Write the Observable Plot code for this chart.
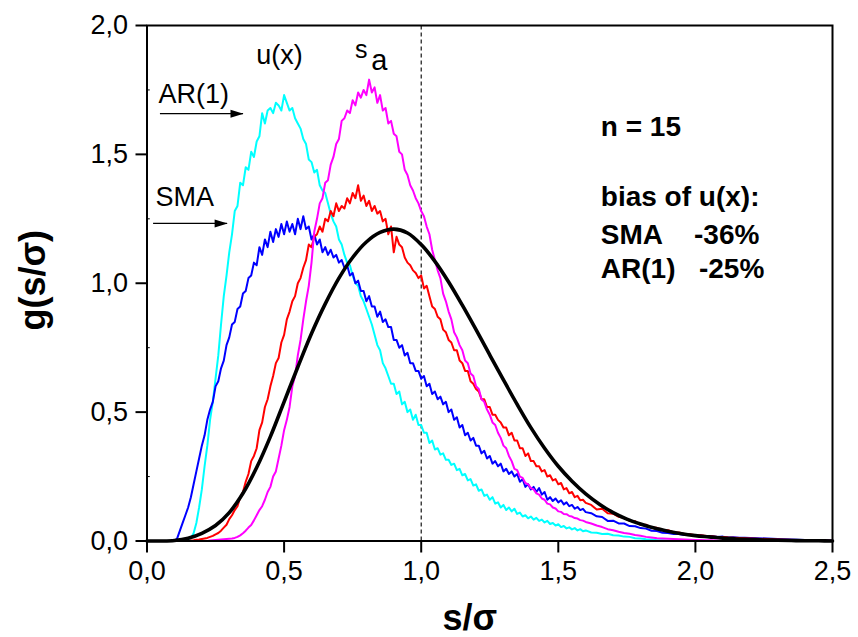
<!DOCTYPE html>
<html><head><meta charset="utf-8">
<script src="https://cdn.jsdelivr.net/npm/d3@7"></script>
<script src="https://cdn.jsdelivr.net/npm/@observablehq/plot@0.6"></script>
<style>body{margin:0;background:#fff}</style>
</head><body><div id="chart"></div>
<script>
// sample positions s/sigma for the simulated histograms
const xs = [
0.10,0.11,0.12,0.13,0.14,0.15,0.16,0.17,0.18,0.19,
0.20,0.21,0.22,0.23,0.24,0.25,0.26,0.27,0.28,0.29,
0.30,0.31,0.32,0.33,0.34,0.35,0.36,0.37,0.38,0.39,
0.40,0.41,0.42,0.43,0.44,0.45,0.46,0.47,0.48,0.49,
0.50,0.51,0.52,0.53,0.54,0.55,0.56,0.57,0.58,0.59,
0.60,0.61,0.62,0.63,0.64,0.65,0.66,0.67,0.68,0.69,
0.70,0.71,0.72,0.73,0.74,0.75,0.76,0.77,0.78,0.79,
0.80,0.81,0.82,0.83,0.84,0.85,0.86,0.87,0.88,0.89,
0.90,0.91,0.92,0.93,0.94,0.95,0.96,0.97,0.98,0.99,
1.00,1.01,1.02,1.03,1.04,1.05,1.06,1.07,1.08,1.09,
1.10,1.11,1.12,1.13,1.14,1.15,1.16,1.17,1.18,1.19,
1.20,1.21,1.22,1.23,1.24,1.25,1.26,1.27,1.28,1.29,
1.30,1.31,1.32,1.33,1.34,1.35,1.36,1.37,1.38,1.39,
1.40,1.41,1.42,1.43,1.44,1.45,1.46,1.47,1.48,1.49,
1.50,1.51,1.52,1.53,1.54,1.55,1.56,1.57,1.58,1.59,
1.60,
1.62,1.64,1.66,1.68,1.70,1.72,1.74,1.76,1.78,1.80,
1.82,1.84,1.86,1.88,1.90,1.92,1.94,1.96,1.98,2.00,
2.02,2.04,2.06,2.08,2.10,2.12,2.14,2.16,2.18,2.20,
2.30,2.40,2.50];

// u(x), AR(1) — cyan
const arUx = [
0,0,0,0,0.002,0.005,0.012,0.03,0.07,0.13,
0.20,0.29,0.37,0.47,0.54,0.63,0.72,0.84,0.95,1.03,
1.12,1.19,1.28,1.30,1.39,1.38,1.45,1.44,1.51,1.49,
1.55,1.57,1.66,1.62,1.67,1.68,1.66,1.70,1.69,1.67,
1.73,1.70,1.67,1.68,1.64,1.62,1.60,1.56,1.54,1.48,
1.47,1.43,1.44,1.38,1.36,1.35,1.31,1.27,1.24,1.22,
1.17,1.15,1.11,1.08,1.07,1.03,1.00,0.99,0.95,0.93,
0.90,0.87,0.84,0.80,0.76,0.74,0.69,0.67,0.64,0.61,
0.61,0.57,0.58,0.53,0.54,0.50,0.51,0.47,0.49,0.45,
0.45,0.42,0.42,0.38,0.39,0.355,0.36,0.335,0.34,0.315,
0.315,0.295,0.30,0.275,0.28,0.255,0.26,0.235,0.24,0.215,
0.22,0.195,0.20,0.175,0.18,0.16,0.17,0.145,0.15,0.13,
0.14,0.12,0.13,0.115,0.125,0.105,0.11,0.095,0.10,0.088,
0.095,0.083,0.09,0.078,0.083,0.072,0.078,0.066,0.07,0.06,
0.065,0.054,0.058,0.049,0.053,0.045,0.05,0.041,0.046,0.038,
0.041,
0.033,0.032,0.027,0.028,0.022,0.021,0.017,0.016,0.011,0.01,
0.007,0.006,0.003,0.003,0.001,0.001,0,0,0,0,
0,0,0,0,0,0,0,0,0,0,
0,0,0];

// u(x), SMA — blue
const smaUx = [
0,0.01,0.04,0.07,0.10,0.13,0.17,0.22,0.27,0.32,
0.37,0.41,0.47,0.51,0.54,0.60,0.62,0.67,0.70,0.76,
0.79,0.84,0.85,0.90,0.91,0.96,0.97,1.02,1.03,1.08,
1.07,1.14,1.11,1.17,1.14,1.20,1.16,1.21,1.18,1.23,
1.19,1.24,1.20,1.23,1.19,1.25,1.21,1.26,1.21,1.22,
1.17,1.19,1.15,1.17,1.12,1.14,1.11,1.13,1.10,1.11,
1.08,1.09,1.06,1.07,1.03,1.04,1.00,1.01,0.97,0.97,
0.93,0.95,0.91,0.91,0.87,0.89,0.85,0.86,0.83,0.83,
0.78,0.78,0.75,0.76,0.72,0.73,0.69,0.69,0.66,0.66,
0.63,0.64,0.60,0.61,0.57,0.58,0.55,0.56,0.53,0.54,
0.50,0.51,0.47,0.48,0.44,0.45,0.41,0.42,0.39,0.40,
0.37,0.37,0.34,0.35,0.32,0.33,0.30,0.31,0.29,0.30,
0.27,0.28,0.26,0.27,0.25,0.26,0.23,0.24,0.21,0.22,
0.20,0.21,0.19,0.205,0.18,0.19,0.16,0.17,0.155,0.165,
0.15,0.158,0.142,0.15,0.135,0.14,0.125,0.132,0.12,0.125,
0.112,
0.108,0.096,0.093,0.078,0.079,0.068,0.068,0.058,0.057,0.05,
0.048,0.04,0.039,0.032,0.031,0.027,0.027,0.023,0.024,0.02,
0.021,0.018,0.019,0.016,0.017,0.014,0.015,0.013,0.013,0.012,
0.008,0.004,0.002];

// s_a, SMA — red
const smaSa = [
0,0,0,0,0,0,0.002,0.003,0.005,0.006,
0.008,0.01,0.012,0.016,0.02,0.026,0.031,0.04,0.052,0.063,
0.085,0.10,0.12,0.135,0.17,0.19,0.23,0.26,0.31,0.33,
0.36,0.43,0.46,0.52,0.55,0.60,0.64,0.69,0.71,0.77,
0.80,0.86,0.89,0.93,0.95,1.00,1.02,1.06,1.09,1.15,
1.14,1.18,1.19,1.22,1.20,1.25,1.24,1.28,1.26,1.31,
1.28,1.30,1.29,1.33,1.31,1.35,1.33,1.38,1.32,1.34,
1.30,1.32,1.28,1.30,1.27,1.28,1.24,1.25,1.19,1.22,
1.12,1.18,1.15,1.14,1.10,1.08,1.07,1.05,1.04,1.02,
1.03,0.98,0.99,0.95,0.91,0.90,0.87,0.86,0.82,0.81,
0.78,0.77,0.74,0.74,0.70,0.69,0.66,0.66,0.62,0.61,
0.59,0.58,0.55,0.55,0.52,0.52,0.49,0.49,0.47,0.46,
0.44,0.44,0.41,0.42,0.39,0.39,0.36,0.36,0.33,0.34,
0.31,0.31,0.29,0.29,0.27,0.275,0.25,0.255,0.235,0.24,
0.22,0.225,0.20,0.205,0.185,0.19,0.17,0.175,0.158,0.16,
0.148,
0.14,0.122,0.125,0.108,0.106,0.094,0.09,0.078,0.077,0.062,
0.063,0.052,0.051,0.043,0.042,0.034,0.033,0.027,0.026,0.022,
0.022,0.019,0.018,0.016,0.016,0.014,0.013,0.012,0.011,0.01,
0.006,0.003,0.001];

// s_a, AR(1) — magenta
const arSa = [
0,0,0,0,0,0,0,0,0,0,
0,0,0,0.002,0.003,0.004,0.005,0.006,0.007,0.008,
0.009,0.01,0.012,0.016,0.022,0.03,0.04,0.052,0.062,0.08,
0.10,0.12,0.135,0.16,0.19,0.21,0.25,0.27,0.32,0.37,
0.43,0.47,0.52,0.60,0.64,0.72,0.78,0.86,0.93,0.99,
1.08,1.20,1.25,1.31,1.33,1.39,1.40,1.46,1.49,1.54,
1.56,1.63,1.64,1.67,1.66,1.71,1.69,1.74,1.72,1.75,
1.73,1.79,1.74,1.76,1.70,1.73,1.67,1.68,1.62,1.63,
1.58,1.57,1.51,1.50,1.44,1.42,1.38,1.36,1.33,1.31,
1.28,1.26,1.22,1.19,1.13,1.09,1.05,1.02,0.96,0.93,
0.89,0.86,0.81,0.79,0.76,0.74,0.70,0.69,0.65,0.64,
0.60,0.59,0.55,0.54,0.51,0.49,0.46,0.45,0.42,0.40,
0.37,0.36,0.33,0.31,0.28,0.275,0.25,0.245,0.225,0.22,
0.205,0.20,0.185,0.18,0.165,0.16,0.145,0.142,0.13,0.126,
0.115,0.113,0.105,0.104,0.097,0.095,0.089,0.087,0.081,0.079,
0.074,
0.068,0.06,0.054,0.046,0.042,0.036,0.031,0.028,0.023,0.02,
0.016,0.014,0.011,0.01,0.009,0.008,0.007,0.006,0.005,0.004,
0.004,0.003,0.003,0.002,0.002,0.002,0.001,0.001,0.001,0.001,
0,0,0];

// theoretical density (black)
const xTheory = [0,0.05,0.10,0.15,0.20,0.25,0.30,0.35,0.40,0.45,0.50,0.55,0.60,0.65,0.70,0.75,0.80,0.85,0.90,0.95,
1.00,1.05,1.10,1.15,1.20,1.25,1.30,1.35,1.40,1.45,1.50,1.55,1.60,1.65,1.70,1.75,1.80,1.85,1.90,1.95,
2.00,2.05,2.10,2.15,2.20,2.25,2.30,2.35,2.40,2.45,2.50];
const yTheory = [0,0,0.002,0.011,0.03,0.06,0.11,0.185,0.285,0.405,0.54,0.675,0.805,0.92,1.02,1.10,1.16,1.197,1.21,1.195,
1.15,1.085,1.005,0.915,0.82,0.722,0.625,0.53,0.44,0.36,0.29,0.232,0.183,0.143,0.11,0.085,0.066,0.05,0.038,0.028,
0.021,0.016,0.011,0.008,0.006,0.004,0.003,0.002,0.001,0.001,0];

const xTicks = [0, 0.5, 1.0, 1.5, 2.0, 2.5];
const yTicks = [0, 0.5, 1.0, 1.5, 2.0];
const yMinor = [0.25, 0.75, 1.25, 1.75];

const series = [
  {ys: arUx, color: "#00FFFF"},
  {ys: smaUx, color: "#0000FF"},
  {ys: smaSa, color: "#FF0000"},
  {ys: arSa, color: "#FF00FF"}
];
const theory = xTheory.map((x, i) => ({x, y: yTheory[i]}));

// annotation texts
const plainLabels = [
  {text: "u(x)", x: 0.4836, y: 1.850, size: 27, anchor: "middle"},
  {text: "s", x: 0.781, y: 1.872, size: 25, anchor: "middle"},
  {text: "a", x: 0.847, y: 1.829, size: 29, anchor: "middle"},
  {text: "AR(1)", x: 0.042, y: 1.701, size: 27, anchor: "start"},
  {text: "SMA", x: 0.031, y: 1.301, size: 27, anchor: "start"}
];
const boldLabels = [
  {text: "n = 15", x: 1.655, y: 1.573},
  {text: "bias of u(x):", x: 1.655, y: 1.301},
  {text: "SMA", x: 1.655, y: 1.154},
  {text: "-36%", x: 1.995, y: 1.154},
  {text: "AR(1)", x: 1.655, y: 1.022},
  {text: "-25%", x: 2.013, y: 1.022}
];
const arrows = [
  {x1: 0.049, x2: 0.352, y: 1.658},
  {x1: 0.024, x2: 0.294, y: 1.232}
];

const fmt = d => d.toFixed(1).replace(".", ",");
const arrowHead = {draw(ctx) { ctx.moveTo(0, 0); ctx.lineTo(-13, -4); ctx.lineTo(-13, 4); ctx.closePath(); }};

const marks = [
  Plot.ruleX([1.0], {y1: 0, y2: 2, stroke: "black", strokeWidth: 1.1, strokeDasharray: "4,3"}),
  ...series.map(s => Plot.line(s.ys.map((y, i) => ({x: xs[i], y})), {x: "x", y: "y", stroke: s.color, strokeWidth: 2})),
  Plot.line(theory, {x: "x", y: "y", stroke: "black", strokeWidth: 3.6, curve: "catmull-rom"}),
  Plot.ruleY(yMinor, {x1: 0, x2: 0.012, stroke: "black", strokeWidth: 1}),
  Plot.frame({stroke: "black", strokeWidth: 2}),
  Plot.axisX(xTicks, {tickSize: 12, tickPadding: 8, strokeWidth: 2, fontSize: 27, tickFormat: fmt, label: null}),
  Plot.axisY(yTicks, {tickSize: 11, tickPadding: 8, strokeWidth: 2, fontSize: 27, tickFormat: fmt, label: null}),
  Plot.ruleY(arrows, {y: "y", x1: "x1", x2: "x2", stroke: "black", strokeWidth: 1.2}),
  Plot.dot(arrows, {x: "x2", y: "y", symbol: arrowHead, fill: "black", stroke: "none", r: 5}),
  ...plainLabels.map(d => Plot.text([d], {x: "x", y: "y", text: "text", fontSize: d.size, textAnchor: d.anchor, lineAnchor: "bottom"})),
  Plot.text(boldLabels, {x: "x", y: "y", text: "text", fontSize: 28, fontWeight: "bold", textAnchor: "start", lineAnchor: "bottom"}),
  Plot.text(["s/σ"], {frameAnchor: "bottom", dy: 89, dx: -20, fontSize: 36, fontWeight: "bold", textAnchor: "middle", lineAnchor: "bottom"}),
  Plot.text(["g(s/σ)"], {frameAnchor: "middle", dx: -456, dy: -3, rotate: -90, fontSize: 36, fontWeight: "bold", textAnchor: "middle", lineAnchor: "middle"})
];

const chart = Plot.plot({
  width: 858,
  height: 637,
  marginLeft: 146.5,
  marginRight: 26,
  marginTop: 25,
  marginBottom: 96.5,
  x: {domain: [0, 2.5], label: null},
  y: {domain: [0, 2], label: null},
  style: {fontFamily: "'Liberation Sans', Arial, sans-serif", background: "white", color: "black", overflow: "visible"},
  marks
});
document.getElementById("chart").appendChild(chart);
</script>
</body></html>
